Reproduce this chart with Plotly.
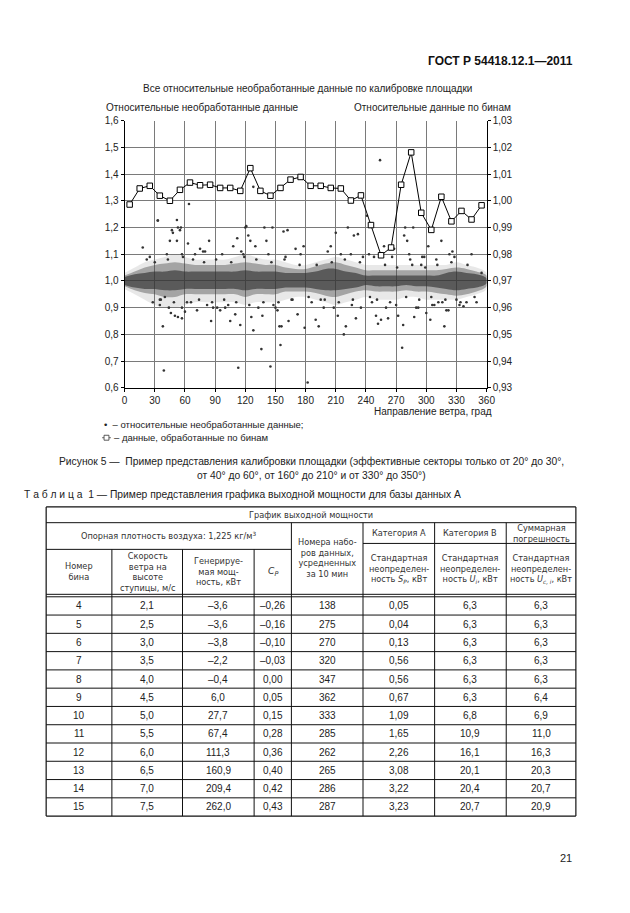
import plotly.graph_objects as go

W, H = 630, 913
def px(x): return x / W
def py(y): return 1 - y / H

FONT = "Liberation Sans, Arial, sans-serif"
HFONT = "DejaVu Sans, Liberation Sans, sans-serif"

# ---------------- chart data ----------------
bin_dir = [5, 15, 25, 35, 45, 55, 65, 75, 85, 95, 105, 115, 125, 135, 145, 155, 165, 175,
           185, 195, 205, 215, 225, 235, 245, 255, 265, 275, 285, 295, 305, 315, 325, 335, 345, 355]
bin_val = [0.9986, 1.0046, 1.0056, 1.0019, 1.0000, 1.0041, 1.0068, 1.0058, 1.0060, 1.0048,
           1.0048, 1.0037, 1.0122, 1.0037, 1.0019, 1.0048, 1.0079, 1.0089, 1.0056, 1.0056,
           1.0048, 1.0046, 1.0001, 1.0020, 0.9909, 0.9796, 0.9825, 1.0060, 1.0181, 0.9955,
           0.9891, 1.0015, 0.9923, 0.9962, 0.9930, 0.9983]

# envelopes of the dense cloud of raw points (read per 10 degrees)
env_dir = list(range(0, 361, 10))
core_lo = [0.985, 0.975, 0.97, 0.97, 0.965, 0.965, 0.97, 0.97, 0.97, 0.97, 0.97, 0.97, 0.965, 0.97,
           0.97, 0.97, 0.975, 0.975, 0.975, 0.97, 0.965, 0.965, 0.97, 0.975, 0.985, 0.98, 0.98, 0.98,
           0.985, 0.98, 0.98, 0.975, 0.97, 0.965, 0.97, 0.975, 0.99]
core_hi = [1.015, 1.025, 1.03, 1.035, 1.035, 1.04, 1.035, 1.035, 1.035, 1.035, 1.035, 1.035, 1.04, 1.035,
           1.035, 1.035, 1.03, 1.03, 1.03, 1.035, 1.045, 1.045, 1.035, 1.03, 1.02, 1.02, 1.02, 1.02,
           1.02, 1.02, 1.02, 1.02, 1.03, 1.035, 1.03, 1.025, 1.01]
mid_lo = [0.98, 0.965, 0.955, 0.95, 0.94, 0.94, 0.95, 0.95, 0.95, 0.95, 0.95, 0.95, 0.94, 0.95,
          0.95, 0.95, 0.96, 0.96, 0.96, 0.955, 0.945, 0.94, 0.95, 0.96, 0.965, 0.96, 0.96, 0.96,
          0.965, 0.96, 0.96, 0.955, 0.95, 0.945, 0.95, 0.96, 0.98]
mid_hi = [1.02, 1.035, 1.05, 1.06, 1.065, 1.07, 1.065, 1.06, 1.06, 1.06, 1.06, 1.065, 1.07, 1.065,
          1.06, 1.06, 1.05, 1.045, 1.045, 1.055, 1.065, 1.07, 1.06, 1.05, 1.04, 1.04, 1.04, 1.04,
          1.04, 1.04, 1.04, 1.04, 1.045, 1.05, 1.045, 1.035, 1.02]
halo_lo = [0.97, 0.95, 0.93, 0.91, 0.90, 0.90, 0.91, 0.92, 0.92, 0.92, 0.92, 0.92, 0.91, 0.92,
           0.92, 0.92, 0.93, 0.94, 0.94, 0.93, 0.92, 0.91, 0.92, 0.93, 0.94, 0.93, 0.93, 0.93,
           0.94, 0.94, 0.93, 0.93, 0.93, 0.93, 0.94, 0.95, 0.97]
halo_hi = [1.03, 1.05, 1.07, 1.08, 1.09, 1.10, 1.09, 1.08, 1.08, 1.08, 1.08, 1.09, 1.10, 1.09,
           1.08, 1.08, 1.07, 1.06, 1.06, 1.07, 1.08, 1.09, 1.08, 1.07, 1.06, 1.06, 1.06, 1.06,
           1.06, 1.06, 1.06, 1.06, 1.06, 1.07, 1.06, 1.05, 1.03]

# individual scattered raw points (outside the dense band)
pt_dir = [18, 33, 35, 38, 39, 47, 48, 52, 53, 55, 56, 50, 53, 57, 46, 57, 60, 33, 35, 40,
          45, 52, 57, 63, 64, 75, 80, 84, 86, 88, 92, 95, 100, 105, 108, 110, 112, 113, 115, 118,
          120, 121, 123, 125, 126, 128, 128, 130, 136, 137, 139, 141, 145, 147, 150, 152, 154, 156,
          155, 158, 162, 163, 170, 172, 178, 179, 182, 190, 193, 198, 205, 210, 212, 218, 220, 222,
          225, 228, 230, 232, 235, 241, 243, 250, 252, 254, 255, 258, 262, 268, 272, 276, 277, 278,
          279, 281, 284, 287, 288, 292, 295, 298, 300, 302, 304, 308, 312, 315, 318, 320, 322, 323,
          326, 330, 337, 340, 355, 25, 28, 42, 44, 66, 70, 72, 78, 82, 97, 103, 116, 133, 143,
          148, 160, 166, 175, 186, 195, 202, 208, 215, 226, 237, 246, 248, 260, 266, 270, 283,
          290, 296, 306, 310, 316, 328, 333, 345, 350,
          22, 30, 36, 43, 49, 58, 62, 68, 74, 79, 87, 91, 99, 106, 111, 119, 124, 131, 138, 146,
          153, 159, 167, 174, 183, 191, 199, 206, 213, 219, 227, 234, 244, 251, 259, 264, 271,
          280, 286, 293, 299, 305, 311, 319, 325, 334, 341, 348]
pt_val = [1.125, 1.226, 0.91, 0.83, 0.665, 1.19, 1.18, 1.228, 1.2, 1.19, 1.2, 0.87, 0.865, 0.86,
          0.88, 0.9, 0.885, 1.226, 0.93, 0.94, 1.15, 1.15, 1.1, 1.14, 1.288, 1.12, 1.11, 1.15,
          0.85, 0.9, 0.9, 0.89, 0.9, 0.85, 1.13, 0.875, 1.16, 0.675, 0.835, 1.1, 1.2, 1.205,
          1.17, 1.15, 0.865, 0.815, 1.352, 1.13, 0.745, 0.87, 1.2, 1.15, 0.68, 1.2, 0.9, 0.89,
          0.83, 0.83, 0.76, 1.185, 1.19, 0.85, 1.12, 0.875, 1.13, 0.825, 0.62, 0.855, 0.83, 0.9,
          1.13, 1.18, 0.87, 0.8, 0.83, 1.2, 1.1, 1.17, 0.86, 1.175, 0.9, 1.244, 1.1, 0.87, 0.84,
          1.452, 0.855, 1.13, 0.86, 1.12, 0.87, 0.75, 0.835, 1.17, 1.2, 1.15, 1.08, 1.2, 0.865,
          0.9, 1.06, 1.09, 0.88, 1.13, 0.855, 0.91, 0.92, 1.15, 0.83, 0.89, 0.89, 1.1, 1.11, 0.93,
          0.905, 0.92, 1.03, 1.09, 0.92, 1.1, 0.9, 0.92, 1.1, 0.89, 1.11, 0.91, 1.1, 0.91, 1.11,
          0.9, 1.1, 0.91, 1.09, 0.93, 1.1, 0.92, 0.93, 1.11, 0.9, 1.1, 0.91, 1.09, 0.92, 1.09,
          0.9, 1.09, 0.91, 1.1, 0.9, 1.09, 0.91, 1.08, 0.92, 1.09, 0.91, 1.1, 0.92, 1.08,
          1.07, 0.93, 1.08, 0.92, 1.09, 0.92, 1.08, 0.93, 1.07, 0.92, 1.08, 0.93, 1.07, 0.92,
          1.09, 0.91, 1.08, 0.92, 1.07, 0.92, 1.08, 0.93, 1.06, 0.94, 1.06, 0.93, 1.07, 0.92,
          1.08, 0.93, 1.07, 0.94, 0.93, 1.06, 0.92, 1.05, 0.94, 1.06, 0.93, 1.05, 0.94, 1.06,
          0.93, 1.07, 0.92, 1.06, 0.94, 1.05]

# ---------------- table data ----------------
tbl_bin = ["4", "5", "6", "7", "8", "9", "10", "11", "12", "13", "14", "15"]
tbl_speed = ["2,1", "2,5", "3,0", "3,5", "4,0", "4,5", "5,0", "5,5", "6,0", "6,5", "7,0", "7,5"]
tbl_power = ["–3,6", "–3,6", "–3,8", "–2,2", "–0,4", "6,0", "27,7", "67,4", "111,3", "160,9", "209,4", "262,0"]
tbl_cp = ["–0,26", "–0,16", "–0,10", "–0,03", "0,00", "0,05", "0,15", "0,28", "0,36", "0,40", "0,42", "0,43"]
tbl_n = ["138", "275", "270", "320", "347", "362", "333", "285", "262", "265", "286", "287"]
tbl_sp = ["0,05", "0,04", "0,13", "0,56", "0,56", "0,67", "1,09", "1,65", "2,26", "3,08", "3,22", "3,23"]
tbl_ub = ["6,3", "6,3", "6,3", "6,3", "6,3", "6,3", "6,8", "10,9", "16,1", "20,1", "20,4", "20,7"]
tbl_uc = ["6,3", "6,3", "6,3", "6,3", "6,3", "6,4", "6,9", "11,0", "16,3", "20,3", "20,7", "20,9"]

fig = go.Figure()

def band(lo, hi, color):
    fig.add_trace(go.Scatter(x=env_dir + env_dir[::-1], y=hi + lo[::-1], fill="toself",
                             mode="lines", line=dict(width=0, shape="spline"), fillcolor=color,
                             hoverinfo="skip", showlegend=False))

band(halo_lo, halo_hi, "rgba(110,110,110,0.16)")
band(mid_lo, mid_hi, "rgba(70,70,70,0.42)")
band(core_lo, core_hi, "rgba(45,45,45,0.62)")
fig.add_trace(go.Scatter(x=pt_dir, y=pt_val, mode="markers",
                         marker=dict(size=2.6, color="#333333"), showlegend=False))
fig.add_trace(go.Scatter(x=bin_dir, y=bin_val, yaxis="y2", mode="lines",
                         line=dict(color="black", width=1), showlegend=False))
fig.add_trace(go.Scatter(x=bin_dir, y=bin_val, yaxis="y2", mode="markers",
                         marker=dict(symbol="square", size=5.5, color="white",
                                     line=dict(width=1, color="black")),
                         showlegend=False))

tickfont = dict(family=FONT, size=10, color="#222")
fig.update_layout(
    width=W, height=H, margin=dict(l=0, r=0, t=0, b=0),
    paper_bgcolor="white", plot_bgcolor="white",
    xaxis=dict(domain=[px(124), px(493)], range=[0, 360], tickvals=list(range(0, 361, 30)),
               showgrid=True, gridcolor="#7a7a7a", gridwidth=1, zeroline=False,
               showline=True, linecolor="black", linewidth=1.2, ticks="outside", ticklen=3,
               tickcolor="black", tickfont=tickfont),
    yaxis=dict(domain=[py(387.5), py(117)], range=[0.6, 1.6], dtick=0.1, tickformat=".1f",
               showgrid=True, gridcolor="#7a7a7a", gridwidth=1, zeroline=False,
               showline=True, linecolor="black", linewidth=1.2, ticks="outside", ticklen=3,
               tickcolor="black", tickfont=tickfont),
    yaxis2=dict(overlaying="y", side="right", range=[0.93, 1.03], dtick=0.01, tickformat=".2f",
                showgrid=False, zeroline=False, showline=True, linecolor="black", linewidth=1.2,
                ticks="outside", ticklen=3, tickcolor="black", tickfont=tickfont),
    separators=", ",
    font=dict(family=FONT, color="#222"),
)

ann = []
def text(x, y, s, size=10, xanchor="center", bold=False, color="#222", family=FONT):
    if bold:
        s = "<b>" + s + "</b>"
    ann.append(dict(x=px(x), y=py(y), xref="paper", yref="paper", text=s, showarrow=False,
                    xanchor=xanchor, yanchor="middle", align="center",
                    font=dict(family=family, size=size, color=color)))

text(583, 57, "ГОСТ Р 54418.12.1—2011", size=12, xanchor="right", bold=True, color="#111")
text(310, 85, "Все относительные необработанные данные по калибровке площадки", size=10)
text(103, 104, "Относительные необработанные данные", size=10, xanchor="left")
text(520, 104, "Относительные данные по бинам", size=10, xanchor="right")
text(501, 411, "Направление ветра, град", size=10, xanchor="right")
text(101, 425, "•  – относительные необработанные данные;", size=9.5, xanchor="left")
text(111, 438, "– данные, обработанные по бинам", size=9.5, xanchor="left")
text(314, 462, "Рисунок 5 —  Пример представления калибровки площадки (эффективные секторы только от 20° до 30°,", size=10.3)
text(314, 476, "от 40° до 60°, от 160° до 210° и от 330° до 350°)", size=10.3)
text(19, 495, "Т а б л и ц а  1 — Пример представления графика выходной мощности для базы данных А", size=10.3, xanchor="left")
text(582, 863, "21", size=11, xanchor="right")

shapes = []
def line(x0, y0, x1, y1, w=1.0, c="#111"):
    shapes.append(dict(type="line", xref="paper", yref="paper", x0=px(x0), y0=py(y0),
                       x1=px(x1), y1=py(y1), line=dict(color=c, width=w)))

# legend square symbol with line
line(101, 438, 110, 438, w=0.8, c="#444")
shapes.append(dict(type="rect", xref="paper", yref="paper", x0=px(103), x1=px(108),
                   y0=py(440.5), y1=py(435.5), line=dict(color="#333", width=0.8),
                   fillcolor="white"))

# ---------------- table grid ----------------
L, R, T, B = 44, 584, 508, 821
cols = [44, 111, 183, 256, 294, 367, 440, 513, 584]
line(L, T, R, T, 1.2); line(L, B, R, B, 1.2)
line(L, T, L, B, 1.2); line(R, T, R, B, 1.2)
line(L, 524, R, 524)
line(L, 551, 294, 551)
line(367, 545, R, 545)
line(L, 596.5, R, 596.5); line(L, 599, R, 599)
for c in cols[1:4]:
    line(c, 551, c, B)
for c in cols[4:8]:
    line(c, 524, c, B)
row_h = (B - 599) / len(tbl_bin)
for i in range(1, len(tbl_bin)):
    line(L, 599 + i * row_h, R, 599 + i * row_h)

hs = 8.2
def htext(x, y, s, size=hs):
    text(x, y, s, size=size, family=HFONT, color="#333")

htext(314, 516, "График выходной мощности")
htext(169, 537.5, "Опорная плотность воздуха: 1,225 кг/м<sup>3</sup>")
htext(77.5, 573.5, "Номер<br>бина")
htext(147, 573.5, "Скорость<br>ветра на<br>высоте<br>ступицы, м/с")
htext(219.5, 573.5, "Генерируе-<br>мая мощ-<br>ность, кВт")
htext(275, 573.5, "<i>C</i><sub><i>P</i></sub>", size=hs + 1)
htext(330.5, 560, "Номера набо-<br>ров данных,<br>усредненных<br>за 10 мин")
htext(403.5, 534.5, "Категория А")
htext(476.5, 534.5, "Категория В")
htext(548.5, 534.5, "Суммарная<br>погрешность")
htext(403.5, 571, "Стандартная<br>неопределен-<br>ность <i>S</i><sub><i>P</i></sub>, кВт")
htext(476.5, 571, "Стандартная<br>неопределен-<br>ность <i>U</i><sub><i>i</i></sub>, кВт")
htext(548.5, 571, "Стандартная<br>неопределен-<br>ность <i>U</i><sub><i>c, i</i></sub>, кВт")

centers = [77.5, 147, 219.5, 275, 330.5, 403.5, 476.5, 548.5]
columns = [tbl_bin, tbl_speed, tbl_power, tbl_cp, tbl_n, tbl_sp, tbl_ub, tbl_uc]
for j, colvals in enumerate(columns):
    for i, v in enumerate(colvals):
        text(centers[j], 599 + (i + 0.5) * row_h, v, size=10)

fig.update_layout(annotations=ann, shapes=shapes)
fig.write_html("out.html", config={"displayModeBar": False},
               post_script="document.body.style.margin='0';document.body.style.padding='0';"
                           "document.body.style.overflow='hidden';")
